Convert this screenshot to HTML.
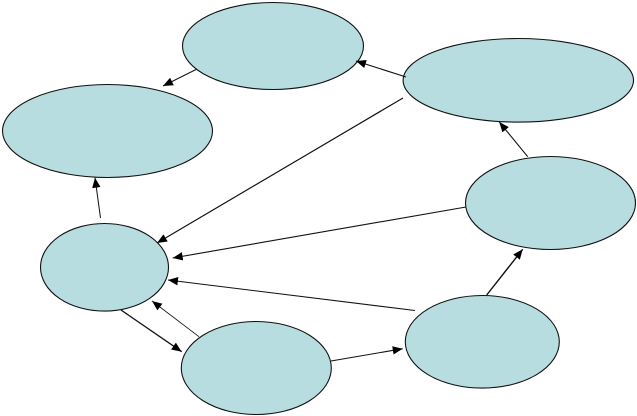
<!DOCTYPE html>
<html>
<head>
<meta charset="utf-8">
<style>
html,body{margin:0;padding:0;background:#fff;width:637px;height:416px;overflow:hidden}
svg{display:block}
</style>
</head>
<body>
<svg width="637" height="416" viewBox="0 0 637 416" xmlns="http://www.w3.org/2000/svg">
<defs>
<marker id="a" markerUnits="userSpaceOnUse" markerWidth="12" markerHeight="10" refX="10" refY="4.5" orient="auto">
<path d="M0,0.3 L10,4.5 L0,8.7 Z" fill="#000"/>
</marker>
</defs>
<g fill="#b8dde1" stroke="#111" stroke-width="1.1">
<ellipse cx="273" cy="46" rx="90.5" ry="43.5"/>
<ellipse cx="107.5" cy="131" rx="105" ry="46.5"/>
<ellipse cx="518.3" cy="80.3" rx="115.2" ry="41.8"/>
<ellipse cx="550.5" cy="203" rx="85" ry="46.5"/>
<ellipse cx="104.5" cy="267.3" rx="64" ry="43.8"/>
<ellipse cx="256.3" cy="368" rx="75" ry="46.5"/>
<ellipse cx="482.3" cy="341.8" rx="77" ry="46.3"/>
</g>
<g stroke="#111" fill="none" marker-end="url(#a)">
<line x1="197" y1="69" x2="163" y2="86" stroke-width="1"/>
<line x1="406" y1="77" x2="356" y2="61" stroke-width="1.1"/>
<line x1="403" y1="98" x2="157" y2="243" stroke-width="1.2"/>
<line x1="466" y1="207" x2="172.7" y2="258" stroke-width="1.1"/>
<line x1="415" y1="310.5" x2="168" y2="280" stroke-width="1.1"/>
<line x1="199" y1="336.7" x2="152" y2="301" stroke-width="0.8"/>
<line x1="121" y1="310" x2="181.7" y2="351.7" stroke-width="1.3"/>
<line x1="331" y1="361" x2="402.7" y2="348.7" stroke-width="1.1"/>
<line x1="486.7" y1="295" x2="522.7" y2="249.3" stroke-width="1.4"/>
<line x1="527.7" y1="156.7" x2="499.3" y2="122" stroke-width="1.1"/>
<line x1="100.5" y1="218" x2="95" y2="177.7" stroke-width="1"/>
</g>
</svg>
</body>
</html>
